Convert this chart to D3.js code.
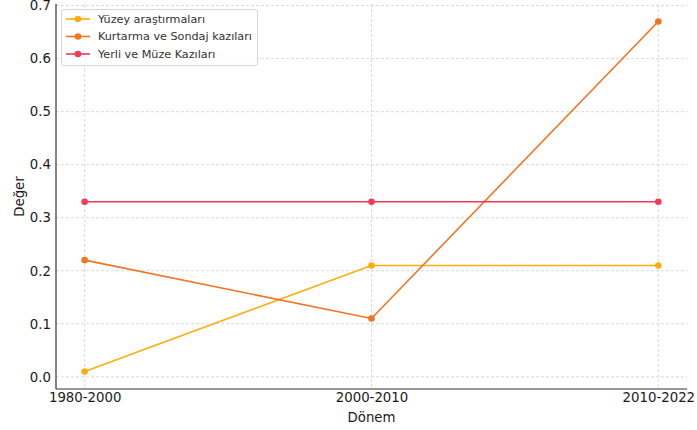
<!DOCTYPE html>
<html>
<head>
<meta charset="utf-8">
<script src="https://cdn.jsdelivr.net/npm/d3@7"></script>
<style>
  body { margin: 0; background: #fff; }
  svg { display: block; font-family: "DejaVu Sans", sans-serif; }
</style>
</head>
<body>
<svg width="697" height="430"></svg>
<script>
let periods = ["1980-2000", "2000-2010", "2010-2022"];
let yuzey = [0.01, 0.21, 0.21];
let kurtarma = [0.22, 0.11, 0.67];
let yerli = [0.33, 0.33, 0.33];
let seriesNames = ["Yüzey araştırmaları", "Kurtarma ve Sondaj kazıları", "Yerli ve Müze Kazıları"];
let seriesColors = ["#ffad0d", "#f47321", "#f23a58"];
let yTicks = [0.0, 0.1, 0.2, 0.3, 0.4, 0.5, 0.6, 0.7];

let series = [yuzey, kurtarma, yerli].map((values, i) => ({
    name: seriesNames[i], color: seriesColors[i], values: values
}));

let svg = d3.select("svg");
let plotLeft = 56, plotRight = 687, plotTop = 4, plotBottom = 389;

// point index scale with matplotlib-like 5% margins
let x = d3.scaleLinear().domain([-0.1, periods.length - 1 + 0.1]).range([plotLeft, plotRight]);
let y = d3.scaleLinear().domain([-0.023, 0.703]).range([plotBottom, plotTop]);

// grid
let grid = svg.append("g");
grid.selectAll(".hg").data(yTicks).enter().append("line")
    .attr("x1", plotLeft).attr("x2", plotRight)
    .attr("y1", d => y(d)).attr("y2", d => y(d))
    .style("stroke", "#d0d0d0").style("stroke-dasharray", "3,2").style("stroke-width", 0.8);
grid.selectAll(".vg").data(periods).enter().append("line")
    .attr("x1", (d, i) => x(i)).attr("x2", (d, i) => x(i))
    .attr("y1", plotTop).attr("y2", plotBottom)
    .style("stroke", "#d0d0d0").style("stroke-dasharray", "3,2").style("stroke-width", 0.8);

// axes
let yAxis = svg.append("g").attr("transform", `translate(${plotLeft},0)`)
    .call(d3.axisLeft(y).tickValues(yTicks).tickFormat(d3.format(".1f")).tickSize(0).tickPadding(5));
let xAxis = svg.append("g").attr("transform", `translate(0,${plotBottom})`)
    .call(d3.axisBottom(x).tickValues(periods.map((d, i) => i)).tickFormat(i => periods[i]).tickSize(0).tickPadding(4));
[xAxis, yAxis].forEach(a => {
    a.select(".domain").style("stroke", "#333").style("stroke-width", 1.2);
    a.selectAll("text").style("font-size", "13.3px").style("fill", "#1a1a1a")
        .style("font-family", "'DejaVu Sans', sans-serif");
});
yAxis.select(".domain").attr("d", `M0,${plotBottom}V${plotTop}`);
xAxis.select(".domain").attr("d", `M${plotLeft},0H${plotRight}`);

svg.append("text").attr("x", (plotLeft + plotRight) / 2).attr("y", 422)
    .attr("text-anchor", "middle").style("font-size", "13.3px").style("fill", "#1a1a1a")
    .text("Dönem");
svg.append("text").attr("transform", `translate(24,${(plotTop + plotBottom) / 2}) rotate(-90)`)
    .attr("text-anchor", "middle").style("font-size", "13.3px").style("fill", "#1a1a1a")
    .text("Değer");

// lines and markers
let line = d3.line().x((d, i) => x(i)).y(d => y(d));
let lines = svg.append("g");
series.forEach(s => {
    lines.append("path").datum(s.values).attr("d", line)
        .style("fill", "none").style("stroke", s.color).style("stroke-width", 1.6);
    lines.selectAll(null).data(s.values).enter().append("circle")
        .attr("cx", (d, i) => x(i)).attr("cy", d => y(d)).attr("r", 3.3)
        .style("fill", s.color);
});

// legend
let legend = svg.append("g");
legend.append("rect").attr("x", 61.5).attr("y", 9.5).attr("width", 196).attr("height", 56).attr("rx", 2)
    .style("fill", "#fff").style("fill-opacity", 0.85).style("stroke", "#ccc").style("stroke-width", 0.8);
series.forEach((s, i) => {
    let ly = 19 + i * 17.5;
    legend.append("line").attr("x1", 66).attr("x2", 90).attr("y1", ly).attr("y2", ly)
        .style("stroke", s.color).style("stroke-width", 1.6);
    legend.append("circle").attr("cx", 78).attr("cy", ly).attr("r", 3.3).style("fill", s.color);
    legend.append("text").attr("x", 98).attr("y", ly).attr("dy", "0.35em")
        .style("font-size", "11.2px").style("fill", "#333").text(s.name);
});
</script>
</body>
</html>
